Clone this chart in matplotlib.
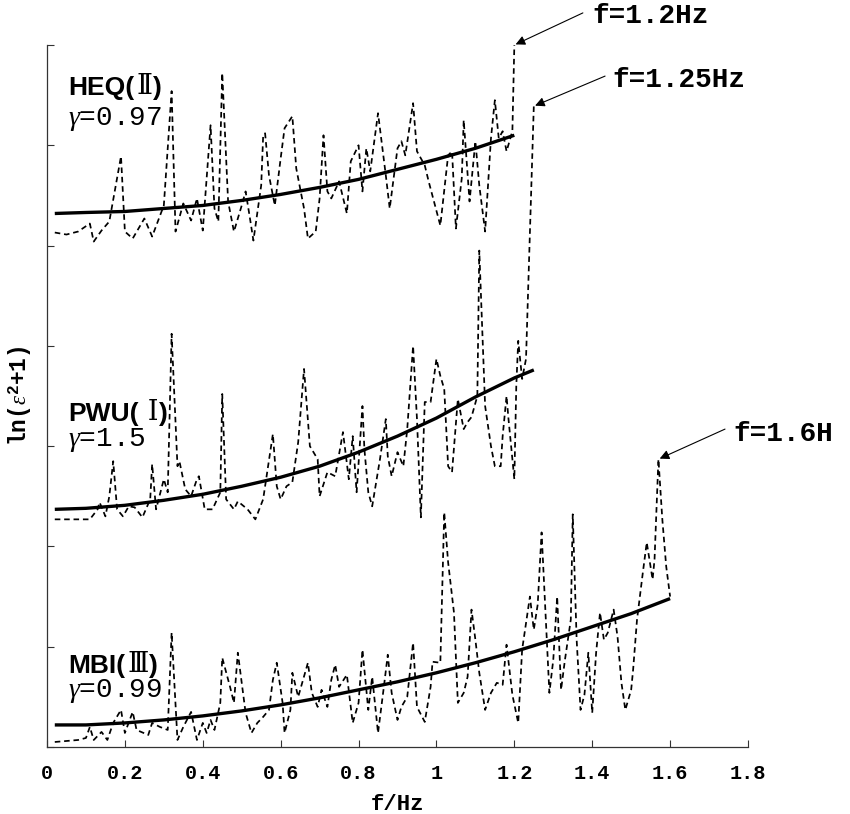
import matplotlib
matplotlib.use('Agg')
import matplotlib.pyplot as plt
from matplotlib.ticker import FuncFormatter

plt.rcParams['mathtext.fontset'] = 'custom'
plt.rcParams['mathtext.rm'] = 'Liberation Mono:bold'
plt.rcParams['mathtext.bf'] = 'Liberation Mono:bold'
plt.rcParams['mathtext.it'] = 'Liberation Serif:italic'

###################################################################
# DATA (curves stacked with offsets)
heq_f = [0.02, 0.05, 0.08, 0.11, 0.12, 0.14, 0.16, 0.19, 0.20, 0.22,
         0.25, 0.27, 0.30, 0.32, 0.33, 0.35, 0.37, 0.385, 0.40, 0.42,
         0.43, 0.44, 0.45, 0.465, 0.48, 0.50, 0.51, 0.52, 0.53, 0.55,
         0.555, 0.56, 0.57, 0.585, 0.60, 0.61, 0.63, 0.64, 0.66, 0.67,
         0.69, 0.70, 0.71, 0.72, 0.73, 0.75, 0.77, 0.78, 0.80, 0.81,
         0.82, 0.83, 0.85, 0.87, 0.88, 0.90, 0.91, 0.92, 0.94, 0.95,
         0.97, 0.98, 1.01, 1.03, 1.04, 1.05, 1.065, 1.07, 1.085, 1.10,
         1.11, 1.125, 1.14, 1.15, 1.16, 1.17, 1.18, 1.195, 1.20]
heq_y = [5.13, 5.11, 5.14, 5.22, 5.04, 5.15, 5.24, 5.89, 5.14, 5.07,
         5.27, 5.09, 5.40, 6.54, 5.14, 5.42, 5.25, 5.47, 5.15, 6.20,
         5.37, 5.24, 6.72, 5.44, 5.14, 5.40, 5.54, 5.30, 5.05, 5.60,
         6.09, 6.12, 5.70, 5.40, 5.87, 6.17, 6.29, 5.77, 5.37, 5.07,
         5.14, 5.47, 6.10, 5.54, 5.47, 5.64, 5.32, 5.84, 6.00, 5.54,
         5.97, 5.74, 6.32, 5.70, 5.37, 5.97, 6.04, 5.90, 6.42, 5.94,
         5.80, 5.64, 5.20, 5.90, 5.94, 5.17, 5.67, 6.25, 5.44, 6.04,
         5.60, 5.14, 6.07, 6.45, 6.07, 6.14, 5.94, 6.14, 7.00]

pwu_f = [0.02, 0.06, 0.11, 0.13, 0.135, 0.15, 0.16, 0.17, 0.18, 0.195,
         0.21, 0.225, 0.245, 0.265, 0.27, 0.28, 0.30, 0.31, 0.32, 0.335,
         0.34, 0.355, 0.37, 0.385, 0.39, 0.405, 0.425, 0.445, 0.45, 0.46,
         0.48, 0.49, 0.515, 0.535, 0.555, 0.58, 0.59, 0.60, 0.615, 0.63,
         0.645, 0.66, 0.675, 0.695, 0.70, 0.72, 0.74, 0.76, 0.775, 0.785,
         0.795, 0.81, 0.815, 0.825, 0.835, 0.855, 0.87, 0.875, 0.885, 0.90,
         0.915, 0.925, 0.94, 0.95, 0.96, 0.97, 0.985, 1.00, 1.01, 1.02,
         1.03, 1.04, 1.055, 1.07, 1.08, 1.09, 1.105, 1.11, 1.125, 1.14,
         1.15, 1.165, 1.17, 1.18, 1.185, 1.195, 1.20, 1.205, 1.21, 1.22,
         1.23, 1.25]
pwu_y = [2.27, 2.27, 2.27, 2.37, 2.44, 2.30, 2.50, 2.85, 2.37, 2.30,
         2.40, 2.39, 2.29, 2.47, 2.82, 2.37, 2.67, 2.54, 4.12, 2.80,
         2.85, 2.57, 2.50, 2.67, 2.70, 2.37, 2.37, 2.54, 3.52, 2.47,
         2.37, 2.45, 2.37, 2.27, 2.47, 3.12, 2.60, 2.47, 2.60, 2.64,
         3.04, 3.77, 3.00, 2.87, 2.50, 2.74, 2.70, 3.14, 2.67, 3.10,
         2.54, 3.40, 2.97, 2.54, 2.40, 2.87, 3.27, 2.90, 2.70, 2.94,
         2.80, 3.17, 4.00, 3.27, 2.29, 3.44, 3.44, 3.87, 3.70, 3.57,
         2.80, 2.74, 3.47, 3.17, 3.24, 3.29, 3.50, 4.95, 3.40, 3.00,
         2.80, 2.80, 3.10, 3.50, 3.27, 2.87, 2.67, 3.60, 4.05, 3.67,
         3.87, 6.39]

mbi_f = [0.02, 0.08, 0.10, 0.11, 0.12, 0.14, 0.155, 0.17, 0.19, 0.20,
         0.22, 0.23, 0.26, 0.27, 0.29, 0.31, 0.32, 0.335, 0.35, 0.37,
         0.385, 0.40, 0.41, 0.42, 0.43, 0.445, 0.45, 0.47, 0.48, 0.49,
         0.51, 0.525, 0.54, 0.555, 0.57, 0.58, 0.59, 0.605, 0.61, 0.625,
         0.63, 0.645, 0.67, 0.68, 0.695, 0.705, 0.72, 0.73, 0.74, 0.75,
         0.77, 0.785, 0.80, 0.81, 0.825, 0.835, 0.85, 0.865, 0.875, 0.885,
         0.90, 0.91, 0.925, 0.94, 0.95, 0.97, 0.985, 0.99, 1.01, 1.02,
         1.03, 1.045, 1.055, 1.07, 1.08, 1.09, 1.10, 1.11, 1.125, 1.14,
         1.155, 1.17, 1.18, 1.195, 1.21, 1.22, 1.24, 1.25, 1.26, 1.27,
         1.29, 1.30, 1.31, 1.32, 1.33, 1.345, 1.35, 1.36, 1.37, 1.38,
         1.39, 1.40, 1.41, 1.42, 1.43, 1.44, 1.455, 1.465, 1.475, 1.485,
         1.50, 1.505, 1.515, 1.53, 1.54, 1.555, 1.56, 1.57, 1.58, 1.59,
         1.60]
mbi_y = [0.05, 0.07, 0.09, 0.20, 0.07, 0.15, 0.07, 0.24, 0.37, 0.14,
         0.35, 0.17, 0.12, 0.24, 0.20, 0.17, 1.14, 0.07, 0.20, 0.35,
         0.07, 0.24, 0.14, 0.27, 0.17, 0.44, 0.89, 0.60, 0.44, 0.94,
         0.34, 0.14, 0.24, 0.30, 0.37, 0.67, 0.84, 0.44, 0.14, 0.37,
         0.74, 0.50, 0.84, 0.54, 0.40, 0.57, 0.40, 0.67, 0.82, 0.60,
         0.72, 0.24, 0.44, 0.97, 0.37, 0.70, 0.14, 0.60, 0.92, 0.54,
         0.27, 0.40, 0.50, 1.04, 0.40, 0.25, 0.60, 0.85, 0.84, 2.34,
         1.84, 1.34, 0.44, 0.54, 0.70, 1.37, 1.07, 0.74, 0.37, 0.54,
         0.64, 0.62, 1.02, 0.52, 0.24, 0.97, 1.50, 1.17, 1.42, 2.14,
         0.54, 0.87, 1.50, 0.57, 0.87, 1.27, 2.32, 1.07, 0.37, 0.52,
         0.94, 0.34, 0.94, 1.34, 1.07, 1.14, 1.37, 1.10, 0.64, 0.37,
         0.57, 0.77, 1.27, 1.74, 2.04, 1.67, 1.87, 2.87, 2.27, 1.80,
         1.50]

# fitted trend lines
heq_fit_f = [0.02, 0.1, 0.2, 0.3, 0.4, 0.5, 0.6, 0.7, 0.8, 0.9, 1.0, 1.1, 1.2]
heq_fit_y = [5.32, 5.33, 5.34, 5.37, 5.40, 5.45, 5.51, 5.58, 5.66, 5.76, 5.86, 5.97, 6.10]
pwu_fit_f = [0.02, 0.1, 0.2, 0.3, 0.4, 0.5, 0.6, 0.7, 0.8, 0.9, 1.0, 1.1, 1.2, 1.25]
pwu_fit_y = [2.37, 2.38, 2.41, 2.46, 2.52, 2.60, 2.69, 2.80, 2.94, 3.10, 3.28, 3.49, 3.68, 3.76]
mbi_fit_f = [0.02, 0.1, 0.2, 0.3, 0.4, 0.5, 0.6, 0.7, 0.8, 0.9, 1.0, 1.1, 1.2, 1.3, 1.4, 1.5, 1.6]
mbi_fit_y = [0.22, 0.22, 0.24, 0.27, 0.31, 0.36, 0.42, 0.49, 0.57, 0.65, 0.74, 0.84, 0.95, 1.07, 1.20, 1.33, 1.48]

names = ['HEQ', 'PWU', 'MBI']
numerals = ['\u2161', ' \u2160', '\u2162']
gammas = ['0.97', '1.5', '0.99']
peak_labels = ['f=1.2Hz', 'f=1.25Hz', 'f=1.6H']
x_ticks = [0, 0.2, 0.4, 0.6, 0.8, 1.0, 1.2, 1.4, 1.6, 1.8]
###################################################################

fig = plt.figure(figsize=(8.5, 8.14), dpi=100)
ax = fig.add_axes([47 / 850, 67 / 814, 701 / 850, 702 / 814])

mono = 'Liberation Mono'
dash = (0, (3.2, 2.2))

series = [(heq_f, heq_y, heq_fit_f, heq_fit_y),
          (pwu_f, pwu_y, pwu_fit_f, pwu_fit_y),
          (mbi_f, mbi_y, mbi_fit_f, mbi_fit_y)]

for f, y, ff, fy in series:
    ax.plot(f, y, color='black', lw=1.25, linestyle=dash, clip_on=False)
    ax.plot(ff, fy, color='black', lw=2.4, solid_capstyle='butt', clip_on=False)

ax.set_xlim(0, 1.8)
ax.set_ylim(0, 7)
ax.set_xticks(x_ticks)
ax.xaxis.set_major_formatter(FuncFormatter(lambda v, p: '%g' % v))
ax.set_yticks(range(8))
ax.set_yticklabels([])
ax.tick_params(direction='in', length=5, width=0.8, color='#333333')
ax.tick_params(axis='x', pad=12, labelsize=14.5)
for lab in ax.get_xticklabels():
    lab.set_fontfamily(mono)
    lab.set_fontweight('bold')

for side in ['top', 'right']:
    ax.spines[side].set_visible(False)
for side in ['left', 'bottom']:
    ax.spines[side].set_color('#333333')
    ax.spines[side].set_linewidth(0.9)

ax.set_xlabel('f/Hz', fontsize=16, fontweight='bold', family=mono, labelpad=8)
ax.set_ylabel(r'ln($\epsilon^{2}$+1)', fontsize=16.5, fontweight='bold', family=mono, labelpad=6)

# series names with roman numerals and exponents
name_y = [6.50, 3.25, 0.74]
gamma_y = [6.20, 3.00, 0.50]
for i in range(3):
    t1 = ax.text(0.054, name_y[i], names[i] + '(', fontsize=19, fontweight='bold',
                 family='Liberation Sans')
    t2 = ax.annotate(numerals[i], xy=(1, 0), xycoords=t1, xytext=(1.5, 0),
                     textcoords='offset points', va='bottom', fontsize=19.5,
                     family=['Liberation Serif', 'DejaVu Serif'])
    ax.annotate(')', xy=(1, 0), xycoords=t2, xytext=(0.5, 0),
                textcoords='offset points', va='bottom', fontsize=19,
                fontweight='bold', family='Liberation Sans')
    ax.text(0.054, gamma_y[i], r'$\gamma$=' + gammas[i], fontsize=20, family=mono)

# peak annotations
peaks = [(heq_f[-1], heq_y[-1]), (pwu_f[-1], pwu_y[-1]), (mbi_f[117], mbi_y[117])]
tails = [(1.376, 7.32), (1.433, 6.69), (1.741, 3.17)]
text_pos = [(1.40, 7.29), (1.453, 6.65), (1.762, 3.12)]
for lab, pk, tl, tp in zip(peak_labels, peaks, tails, text_pos):
    ax.annotate('', xy=pk, xytext=tl, annotation_clip=False,
                arrowprops=dict(arrowstyle='-|>', color='black', lw=0.8,
                                mutation_scale=14, shrinkA=0, shrinkB=1))
    ax.text(tp[0], tp[1], lab, fontsize=20, fontweight='bold', family=mono,
            va='center', ha='left', clip_on=False)

fig.savefig('out.png', dpi=100)
